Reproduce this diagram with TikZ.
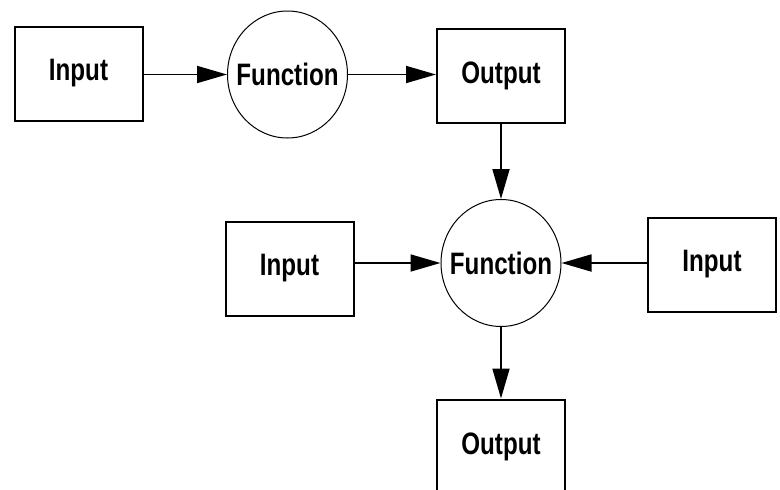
\documentclass[tikz,border=0pt]{standalone}
\usepackage{fontspec}
\newfontfamily\narrowfont[FakeStretch=0.78]{Liberation Sans}
\usetikzlibrary{arrows.meta, shapes.geometric, positioning}

\begin{document}
\begin{tikzpicture}[x=1pt, y=-1pt, >={Triangle[length=30pt,width=17pt]},
  box/.style={draw, line width=2pt, minimum width=128pt, minimum height=94pt,
    font=\narrowfont\bfseries\fontsize{31}{31}\selectfont},
  func/.style={draw, ellipse, line width=1pt, minimum width=120pt, minimum height=127pt,
    inner sep=0pt, font=\narrowfont\bfseries\fontsize{31}{31}\selectfont},
  link/.style={->, line width=1.8pt}]
  % Page
  \clip (0,0) rectangle (780,490);
  % First stage
  \node[box] (in1) at (78.5,73.5) {Input};
  \node[func] (fun1) at (287.5,74.5) {\makebox[0pt]{Function}};
  \node[box] (out1) at (501,75.5) {Output};
  % Second stage
  \node[func] (fun2) at (501,263) {\makebox[0pt]{Function}};
  \node[box] (in2) at (289.5,268.5) {Input};
  \node[box] (in3) at (712,264.5) {Input};
  \node[box] (out2) at (501,446.5) {Output};
  % Connectors
  \draw[link] (in1.east |- fun1) -- (fun1);
  \draw[link] (fun1) -- (fun1 -| out1.west);
  \draw[link] (out1) -- (fun2);
  \draw[link] (in2.east |- fun2) -- (fun2);
  \draw[link] (in3.west |- fun2) -- (fun2);
  \draw[link] (fun2) -- (out2);
\end{tikzpicture}
\end{document}
